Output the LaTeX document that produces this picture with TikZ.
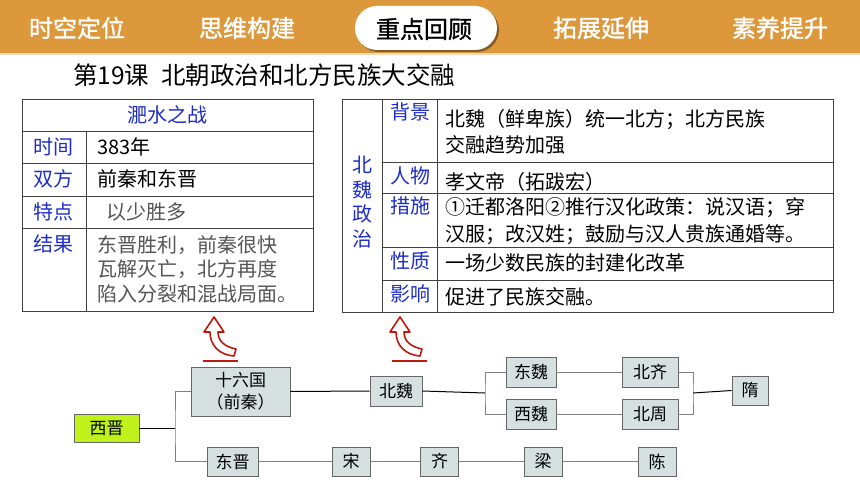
\documentclass[tikz,border=0pt]{standalone}
\usepackage{fontspec}
\setmainfont{Noto Sans CJK SC}
\newfontfamily\tabfont[FakeBold=1.2]{Noto Sans CJK SC}
\usetikzlibrary{positioning}
\definecolor{barorange}{RGB}{221,152,60}
\definecolor{labelblue}{RGB}{30,45,200}
\definecolor{boxgray}{RGB}{214,224,224}
\definecolor{boxgreen}{RGB}{190,242,26}
\definecolor{arrowred}{RGB}{190,25,10}
\definecolor{textgray}{RGB}{85,85,85}

\begin{document}
\begin{tikzpicture}[x=1pt,y=-1pt]
\tikzset{tab/.style={text=white,inner sep=0pt,font=\tabfont\fontsize{24}{26}\selectfont}}
\tikzset{lbl/.style={text=labelblue,inner sep=0pt,font=\fontsize{20}{22}\selectfont}}
\tikzset{txt/.style={anchor=west,inner sep=0pt,font=\fontsize{20}{22}\selectfont}}
\tikzset{era/.style={draw=black!60,fill=boxgray,line width=0.9pt,inner sep=0pt,align=center,font=\fontsize{17}{20}\selectfont}}
\tikzset{link/.style={black!50,line width=1pt}}
\tikzset{grid/.style={black!75,line width=0.9pt}}
\tikzset{bentarrow/.style={draw=arrowred,line width=1.6pt,line join=round}}
    \useasboundingbox (0,0) rectangle (860,484);
    \fill[white] (0,0) rectangle (860,484);

% % % % % % % % % % % % % % % % % % %  top bar
    \fill[barorange] (0,0) rectangle (860,53);
    \fill[barorange!35] (0,53) rectangle (860,55);
    \fill[barorange!60!black, rounded corners=22pt] (357,8) rectangle (499,52);
    \fill[white, rounded corners=22pt] (355,6) rectangle (497,50);

    \node[tab] (tabA) at (77,28) {时空定位};
    \node[tab] (tabB) at (247,28) {思维构建};
    \node[tab,text=black] (tabC) at (424,29) {重点回顾};
    \node[tab] (tabD) at (601,28) {拓展延伸};
    \node[tab] (tabE) at (780,28) {素养提升};

    \node[anchor=west,inner sep=0pt,font=\fontsize{24.5}{26}\selectfont] (lesson) at (73,75) {第19课\hspace{12pt}北朝政治和北方民族大交融};

% % % % % % % % % % % % % % % % % % %  left table
    \draw[grid] (22,99) rectangle (313,311);
    \draw[grid] (22,131) -- (313,131);
    \draw[grid] (22,163) -- (313,163);
    \draw[grid] (22,196) -- (313,196);
    \draw[grid] (22,228) -- (313,228);
    \draw[grid] (86,131) -- (86,311);

    \node[lbl] (battle) at (167,115) {淝水之战};
    \node[lbl] (timeL) at (54,147) {时间};
    \node[lbl] (sideL) at (54,179) {双方};
    \node[lbl] (featL) at (54,212) {特点};
    \node[lbl] (resL) at (54,244) {结果};

    \node[txt] (timeT) at (97,147) {383年};
    \node[txt] (sideT) at (97,179) {前秦和东晋};
    \node[txt,text=textgray] (featT) at (106,212) {以少胜多};
    \node[txt,text=textgray] (resT1) at (97,245) {东晋胜利，前秦很快};
    \node[txt,text=textgray] (resT2) at (97,269) {瓦解灭亡，北方再度};
    \node[txt,text=textgray] (resT3) at (97,294) {陷入分裂和混战局面。};

% % % % % % % % % % % % % % % % % % %  right table
    \draw[grid] (342,99) rectangle (833,312);
    \draw[grid] (382,99) -- (382,312);
    \draw[grid] (437,99) -- (437,312);
    \draw[grid] (382,162) -- (833,162);
    \draw[grid] (382,193) -- (833,193);
    \draw[grid] (382,247) -- (833,247);
    \draw[grid] (382,280) -- (833,280);

    \node[lbl,align=center,font=\fontsize{20}{24.5}\selectfont] (reform) at (362,202) {北\\魏\\政\\治};
    \node[lbl] (backL) at (410,112) {背景};
    \node[lbl] (manL) at (410,176) {人物};
    \node[lbl] (stepL) at (410,206) {措施};
    \node[lbl] (natL) at (410,261) {性质};
    \node[lbl] (effL) at (410,294) {影响};

    \node[txt] (backT1) at (445,120) {北魏（鲜卑族）统一北方；北方民族};
    \node[txt] (backT2) at (445,145) {交融趋势加强};
    \node[txt] (manT) at (445,182) {孝文帝（拓跋宏）};
    \node[txt] (stepT1) at (445,208) {①迁都洛阳②推行汉化政策：说汉语；穿};
    \node[txt] (stepT2) at (445,235) {汉服；改汉姓；鼓励与汉人贵族通婚等。};
    \node[txt] (natT) at (445,263) {一场少数民族的封建化改革};
    \node[txt] (effT) at (445,297) {促进了民族交融。};

% % % % % % % % % % % % % % % % % % %  red arrows
    \draw[bentarrow] (214,317) -- (224,332) -- (218,332) .. controls (218,342) and (226,347) .. (236,349)
        -- (234,356) .. controls (220,355) and (210,346) .. (210,332) -- (204,332) -- cycle;
    \draw[arrowred,line width=2.5pt] (203,361) -- (238,361);

    \draw[bentarrow] (400,317) -- (410,332) -- (404,332) .. controls (404,342) and (412,347) .. (422,349)
        -- (420,356) .. controls (406,355) and (396,346) .. (396,332) -- (390,332) -- cycle;
    \draw[arrowred,line width=2.5pt] (392,361) -- (427,361);

% % % % % % % % % % % % % % % % % % %  dynasties
    \node[era,fill=boxgreen,minimum width=65pt,minimum height=28pt] (xijin) at (106.5,428) {西晋};
    \node[era,minimum width=99pt,minimum height=49pt,font=\fontsize{17}{22}\selectfont] (shiliu) at (240.5,391.5) {十六国\\（前秦）};
    \node[era,minimum width=52pt,minimum height=30pt] (beiwei) at (396,391) {北魏};
    \node[era,minimum width=50pt,minimum height=30pt] (dongwei) at (531,372) {东魏};
    \node[era,minimum width=50pt,minimum height=30pt] (xiwei) at (531,414) {西魏};
    \node[era,minimum width=56pt,minimum height=30pt] (beiqi) at (650,372) {北齐};
    \node[era,minimum width=56pt,minimum height=30pt] (beizhou) at (650,414) {北周};
    \node[era,minimum width=36pt,minimum height=29pt] (sui) at (750,390.5) {隋};

    \node[era,minimum width=51pt,minimum height=29pt] (dongjin) at (232.5,461.5) {东晋};
    \node[era,minimum width=38pt,minimum height=29pt] (song) at (351,461.5) {宋};
    \node[era,minimum width=38pt,minimum height=29pt] (qi) at (439.5,461.5) {齐};
    \node[era,minimum width=38pt,minimum height=29pt] (liang) at (543,461.5) {梁};
    \node[era,minimum width=38pt,minimum height=29pt] (chen) at (657,461.5) {陈};

    \coordinate (forkA) at (175,428);
    \coordinate (forkB) at (485,393);
    \coordinate (forkC) at (693,393);

    \draw[link,black] (xijin.east) -- (forkA);
    \draw[link] (shiliu.west) -| (forkA) |- (dongjin.west);
    \draw[link,black] (shiliu.east) -- (beiwei.west);
    \draw[link,black] (beiwei.east) -- (forkB);
    \draw[link] (dongwei.west) -| (forkB) |- (xiwei.west);
    \draw[link] (dongwei.east) -- (beiqi.west);
    \draw[link] (xiwei.east) -- (beizhou.west);
    \draw[link] (beiqi.east) -| (forkC) |- (beizhou.east);
    \draw[link,black] (forkC) -- (sui.west);

    \draw[link] (dongjin.east) -- (song.west);
    \draw[link] (song.east) -- (qi.west);
    \draw[link] (qi.east) -- (liang.west);
    \draw[link] (liang.east) -- (chen.west);

\end{tikzpicture}
\end{document}
